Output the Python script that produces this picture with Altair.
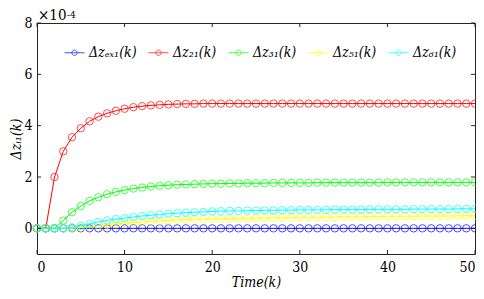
import altair as alt
import pandas as pd

k = list(range(51))
series_names = ["Δzₑₓ₁(k)", "Δz₂₁(k)", "Δz₃₁(k)", "Δz₅₁(k)", "Δz₆₁(k)"]
colors = ["#0000FF", "#FF0000", "#00FF00", "#FFFF00", "#00FFFF"]

# values in units of 1e-4
dz_ex1 = [0.0] * 51
dz_21 = [0, 0, 2.00, 3.00, 3.55, 3.90, 4.17, 4.35, 4.48, 4.58,
         4.66, 4.72, 4.76, 4.79, 4.81, 4.83, 4.84, 4.85, 4.85, 4.86,
         4.86, 4.86, 4.86, 4.86, 4.86, 4.86, 4.86, 4.86, 4.86, 4.86,
         4.86, 4.86, 4.86, 4.86, 4.86, 4.86, 4.86, 4.86, 4.86, 4.86,
         4.86, 4.86, 4.86, 4.86, 4.86, 4.86, 4.86, 4.86, 4.86, 4.86,
         4.86]
dz_31 = [0, 0, 0, 0.30, 0.63, 0.87, 1.07, 1.21, 1.33, 1.42,
         1.49, 1.55, 1.59, 1.63, 1.66, 1.68, 1.70, 1.71, 1.72, 1.73,
         1.74, 1.74, 1.75, 1.75, 1.76, 1.76, 1.76, 1.77, 1.77, 1.77,
         1.77, 1.77, 1.78, 1.78, 1.78, 1.78, 1.78, 1.78, 1.78, 1.78,
         1.79, 1.79, 1.79, 1.79, 1.79, 1.79, 1.79, 1.79, 1.79, 1.79,
         1.79]
dz_51 = [0, 0, 0, 0, 0.00, 0.03, 0.07, 0.10, 0.14, 0.17,
         0.20, 0.23, 0.25, 0.27, 0.29, 0.31, 0.33, 0.34, 0.35, 0.36,
         0.37, 0.37, 0.38, 0.39, 0.39, 0.40, 0.40, 0.41, 0.41, 0.42,
         0.43, 0.43, 0.43, 0.44, 0.44, 0.45, 0.45, 0.45, 0.46, 0.46,
         0.47, 0.47, 0.47, 0.47, 0.48, 0.48, 0.48, 0.48, 0.49, 0.49,
         0.49]
dz_61 = [0, 0, 0, 0, 0.04, 0.10, 0.18, 0.25, 0.31, 0.36,
         0.40, 0.44, 0.48, 0.51, 0.54, 0.57, 0.59, 0.61, 0.63, 0.64,
         0.66, 0.67, 0.68, 0.68, 0.69, 0.69, 0.70, 0.70, 0.71, 0.71,
         0.72, 0.72, 0.72, 0.72, 0.73, 0.73, 0.73, 0.73, 0.74, 0.74,
         0.74, 0.74, 0.74, 0.75, 0.75, 0.75, 0.75, 0.75, 0.76, 0.76,
         0.76]
all_series = [dz_ex1, dz_21, dz_31, dz_51, dz_61]

x_ticks = [0, 10, 20, 30, 40, 50]
y_ticks = [0, 2, 4, 6, 8]
exp_base = ["×10"]
exp_power = ["-4"]

rows = []
for name, vals in zip(series_names, all_series):
    for kk, v in zip(k, vals):
        rows.append({"k": kk, "v": v, "s": name})
df = pd.DataFrame(rows)

W, H = 438, 231
FONT = "DejaVu Serif Condensed"
FRAME = "#262626"

xscale = alt.Scale(domain=[0, 50], nice=False, zero=False)
yscale = alt.Scale(domain=[-1, 8], nice=False, zero=False)
cscale = alt.Scale(domain=series_names, range=colors)

legend_path = "M-1,0L1,0M-0.27,0A0.27,0.27,0,1,1,0.27,0A0.27,0.27,0,1,1,-0.27,0"

layers = []
for i, name in enumerate(series_names):
    base = alt.Chart(df).transform_filter(alt.datum.s == name)
    if i == 0:
        leg = alt.Legend(
            title=None, orient="none", direction="horizontal", columns=5,
            legendX=27, legendY=19, symbolType=legend_path, symbolSize=400,
            symbolStrokeWidth=1, symbolFillColor="transparent",
            labelFont=FONT, labelFontStyle="italic", labelFontSize=14,
            labelFontWeight="normal",
            labelColor="#000", labelOffset=4, columnPadding=9, padding=0,
        )
        stroke_enc = alt.Stroke("s:N", scale=cscale, legend=leg)
    else:
        stroke_enc = alt.Stroke("s:N", scale=cscale)
    line = base.mark_line(strokeWidth=1, clip=True).encode(
        x=alt.X("k:Q", scale=xscale,
                axis=alt.Axis(values=x_ticks, title="Time(k)", tickSize=0, labelPadding=6,
                              titlePadding=1, titleFontStyle="italic", grid=False, domain=False)),
        y=alt.Y("v:Q", scale=yscale,
                axis=alt.Axis(values=y_ticks, title="Δzᵢ₁(k)", tickSize=0, labelPadding=5,
                              titlePadding=0, titleFontStyle="italic", grid=False, domain=False)),
        stroke=stroke_enc,
    )
    pts = base.mark_point(filled=False, size=55, strokeWidth=1, shape="circle").encode(
        x="k:Q", y="v:Q", stroke=alt.Stroke("s:N", scale=cscale),
    )
    layers += [line, pts]

xt = pd.DataFrame({"t": x_ticks})
yt = pd.DataFrame({"t": y_ticks})
tick_col = FRAME
xb = alt.Chart(xt).mark_rule(color=tick_col, strokeWidth=1).encode(
    x=alt.X("t:Q", scale=xscale), y=alt.value(H), y2=alt.value(H - 4))
xtop = alt.Chart(xt).mark_rule(color=tick_col, strokeWidth=1).encode(
    x=alt.X("t:Q", scale=xscale), y=alt.value(0), y2=alt.value(4))
yl = alt.Chart(yt).mark_rule(color=tick_col, strokeWidth=1).encode(
    y=alt.Y("t:Q", scale=yscale), x=alt.value(0), x2=alt.value(4))
yr = alt.Chart(yt).mark_rule(color=tick_col, strokeWidth=1).encode(
    y=alt.Y("t:Q", scale=yscale), x=alt.value(W), x2=alt.value(W - 4))

exp1 = alt.Chart(pd.DataFrame({"t": exp_base})).mark_text(
    font=FONT, fontSize=15, align="left", baseline="alphabetic", color="#000"
).encode(text="t:N", x=alt.value(1), y=alt.value(-3))
exp2 = alt.Chart(pd.DataFrame({"t": exp_power})).mark_text(
    font=FONT, fontSize=10, align="left", baseline="alphabetic", color="#000"
).encode(text="t:N", x=alt.value(30), y=alt.value(-5.5))

chart = alt.layer(*layers, xb, xtop, yl, yr, exp1, exp2).properties(
    width=W, height=H,
    background="white",
    autosize=alt.AutoSizeParams(type="none"),
    padding={"left": 29, "top": 15, "right": 1, "bottom": 36},
).configure_view(stroke=FRAME, strokeWidth=1).configure_axis(
    grid=False, domain=False, labelFont=FONT, labelFontSize=14, labelColor="#000",
    titleFont=FONT, titleFontSize=14, titleFontWeight="normal", titleColor="#000",
)

chart.save("out.html", embed_options={"renderer": "svg", "actions": False})
